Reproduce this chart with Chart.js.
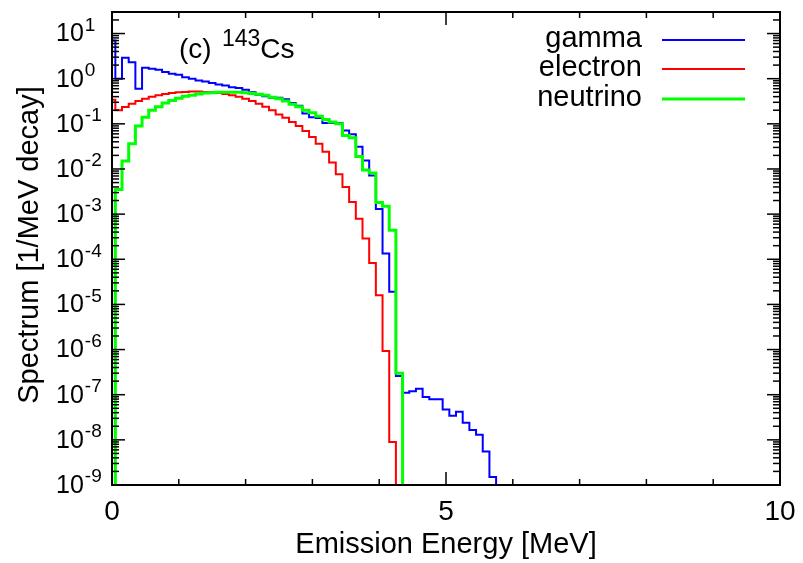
<!DOCTYPE html>
<html>
<head>
<meta charset="utf-8">
<script src="https://cdn.jsdelivr.net/npm/chart.js@4.4.1/dist/chart.umd.min.js"></script>
<style>
  html, body { margin: 0; padding: 0; background: #fff; }
  #wrap { width: 803px; height: 563px; }
</style>
</head>
<body>
<div id="wrap"><canvas id="spectrum" width="803" height="563"></canvas></div>
<script>
// Bin centres [MeV], 0.1 MeV bins
const energy = [
  0.0, 0.1, 0.2, 0.3, 0.4, 0.5, 0.6, 0.7, 0.8, 0.9,
  1.0, 1.1, 1.2, 1.3, 1.4, 1.5, 1.6, 1.7, 1.8, 1.9,
  2.0, 2.1, 2.2, 2.3, 2.4, 2.5, 2.6, 2.7, 2.8, 2.9,
  3.0, 3.1, 3.2, 3.3, 3.4, 3.5, 3.6, 3.7, 3.8, 3.9,
  4.0, 4.1, 4.2, 4.3, 4.4, 4.5, 4.6, 4.7, 4.8, 4.9,
  5.0, 5.1, 5.2, 5.3, 5.4, 5.5, 5.6, 5.7, 5.8
];

// Spectra [1/MeV decay], 0 = empty bin
const gamma = [
  7, 1.0, 2.9, 2.3, 0.6, 1.74, 1.66, 1.57, 1.40, 1.29,
  1.22, 1.08, 1.0, 0.91, 0.87, 0.80, 0.74, 0.71, 0.65, 0.62,
  0.57, 0.50, 0.44, 0.41, 0.38, 0.38, 0.35, 0.29, 0.25, 0.17,
  0.14, 0.135, 0.105, 0.105, 0.105, 0.071, 0.059, 0.031, 0.0155, 7.2e-3,
  1.3e-3, 1.35e-4, 1.9e-5, 2.6e-7, 1.1e-7, 1.2e-7, 1.35e-7, 8.9e-8, 7.9e-8, 7.9e-8,
  4.7e-8, 3.4e-8, 4.2e-8, 2.4e-8, 1.65e-8, 1.3e-8, 5.5e-9, 1.5e-9, 0
];
const electron = [
  0.34, 0.20, 0.235, 0.28, 0.32, 0.36, 0.40, 0.43, 0.46, 0.48,
  0.50, 0.51, 0.52, 0.52, 0.51, 0.50, 0.48, 0.46, 0.43, 0.40,
  0.36, 0.32, 0.28, 0.24, 0.20, 0.16, 0.137, 0.11, 0.089, 0.069,
  0.051, 0.036, 0.024, 0.014, 7.6e-3, 4.0e-3, 1.85e-3, 7.9e-4, 2.9e-4, 8.3e-5,
  1.6e-5, 9.3e-7, 9e-9, 0
];
const neutrino = [
  0, 3.5e-3, 0.015, 0.036, 0.09, 0.14, 0.20, 0.24, 0.29, 0.33,
  0.37, 0.41, 0.43, 0.46, 0.48, 0.49, 0.50, 0.50, 0.50, 0.50,
  0.49, 0.47, 0.45, 0.43, 0.39, 0.36, 0.32, 0.27, 0.24, 0.20,
  0.176, 0.148, 0.125, 0.11, 0.10, 0.055, 0.049, 0.019, 9.5e-3, 8.1e-3,
  1.8e-3, 1.5e-3, 4.4e-4, 3.0e-7, 0
];

const seriesNames = ['gamma', 'electron', 'neutrino'];
const seriesColors = ['#0000ff', '#ff0000', '#00ff00'];
const seriesWidths = [2, 2, 3];

const xMajorTicks = [0, 5, 10];
const xMinorTicks = [1, 2, 3, 4, 6, 7, 8, 9];
const yTickExps = [1, 0, -1, -2, -3, -4, -5, -6, -7, -8, -9];
const yMin = 1e-9;
const yMax = 30;

const FONT = '"Liberation Sans", Arial, sans-serif';
const BELOW_RANGE = 1e-12; // empty bins fall below the axis

function toPoints(values) {
    return values.map((v, i) => ({ x: energy[i], y: v > 0 ? v : BELOW_RANGE }));
}

// --- Frame, ticks, labels, legend (gnuplot style) ---
const decorPlugin = {
    id: 'decor',
    afterDraw(chart) {
        const { ctx, chartArea: a } = chart;
        const x = chart.scales.x;
        const y = chart.scales.y;
        ctx.save();
        ctx.strokeStyle = '#000';
        ctx.fillStyle = '#000';

        // ticks
        ctx.lineWidth = 1.5;
        const hLine = (x0, x1, py) => { ctx.beginPath(); ctx.moveTo(x0, py); ctx.lineTo(x1, py); ctx.stroke(); };
        const vLine = (px, y0, y1) => { ctx.beginPath(); ctx.moveTo(px, y0); ctx.lineTo(px, y1); ctx.stroke(); };

        yTickExps.forEach(e => {
            const py = y.getPixelForValue(Math.pow(10, e));
            hLine(a.left, a.left + 13, py);
            hLine(a.right, a.right - 13, py);
            for (let m = 2; m <= 9; m++) {
                const v = m * Math.pow(10, e);
                if (v > yMax) continue;
                const pm = y.getPixelForValue(v);
                hLine(a.left, a.left + 7, pm);
                hLine(a.right, a.right - 7, pm);
            }
        });
        xMajorTicks.forEach(t => {
            const px = x.getPixelForValue(t);
            vLine(px, a.bottom, a.bottom - 13);
            vLine(px, a.top, a.top + 13);
        });
        xMinorTicks.forEach(t => {
            const px = x.getPixelForValue(t);
            vLine(px, a.bottom, a.bottom - 6);
            vLine(px, a.top, a.top + 6);
        });

        // frame
        ctx.lineWidth = 2;
        ctx.strokeRect(a.left, a.top, a.right - a.left, a.bottom - a.top);

        // y tick labels 10^n
        ctx.textBaseline = 'middle';
        ctx.textAlign = 'left';
        yTickExps.forEach(e => {
            const py = y.getPixelForValue(Math.pow(10, e));
            ctx.font = '25px ' + FONT;
            ctx.fillText('10', 56, py + 1);
            const w = ctx.measureText('10').width;
            ctx.font = '19px ' + FONT;
            ctx.fillText(String(e), 56 + w + 1, py - 8);
        });

        // x tick labels
        ctx.font = '28px ' + FONT;
        ctx.textAlign = 'center';
        xMajorTicks.forEach(t => {
            ctx.fillText(String(t), x.getPixelForValue(t), a.bottom + 27);
        });

        // axis titles
        ctx.font = '29px ' + FONT;
        ctx.fillText('Emission Energy [MeV]', (a.left + a.right) / 2, 545);
        ctx.save();
        ctx.translate(30, 245);
        ctx.rotate(-Math.PI / 2);
        ctx.fillText('Spectrum [1/MeV decay]', 0, 0);
        ctx.restore();

        // panel label "(c) 143Cs"
        ctx.textAlign = 'left';
        ctx.textBaseline = 'alphabetic';
        ctx.font = '28px ' + FONT;
        ctx.fillText('(c)', 179, 58);
        ctx.font = '23px ' + FONT;
        ctx.fillText('143', 222, 46);
        const wNum = ctx.measureText('143').width;
        ctx.font = '28px ' + FONT;
        ctx.fillText('Cs', 222 + wNum, 58);

        // legend
        ctx.font = '29px ' + FONT;
        ctx.textAlign = 'right';
        ctx.textBaseline = 'middle';
        const legendY = [40, 69, 99];
        seriesNames.forEach((name, i) => {
            ctx.fillStyle = '#000';
            ctx.fillText(name, 642, legendY[i] - 1);
            ctx.strokeStyle = seriesColors[i];
            ctx.lineWidth = seriesWidths[i];
            hLine(662, 745, legendY[i]);
        });

        ctx.restore();
    }
};

const datasets = [gamma, electron, neutrino].map((vals, i) => ({
    label: seriesNames[i],
    data: toPoints(vals),
    borderColor: seriesColors[i],
    backgroundColor: seriesColors[i],
    borderWidth: seriesWidths[i],
    stepped: 'middle',
    pointRadius: 0,
    fill: false,
    order: 2 - i
}));

new Chart(document.getElementById('spectrum'), {
    type: 'line',
    data: { datasets },
    options: {
        responsive: false,
        animation: false,
        layout: { padding: { left: 112, top: 12, right: 23, bottom: 78 } },
        scales: {
            x: { type: 'linear', min: 0, max: 10, display: false },
            y: { type: 'logarithmic', min: yMin, max: yMax, display: false }
        },
        plugins: {
            legend: { display: false },
            tooltip: { enabled: false }
        }
    },
    plugins: [decorPlugin]
});
</script>
</body>
</html>
